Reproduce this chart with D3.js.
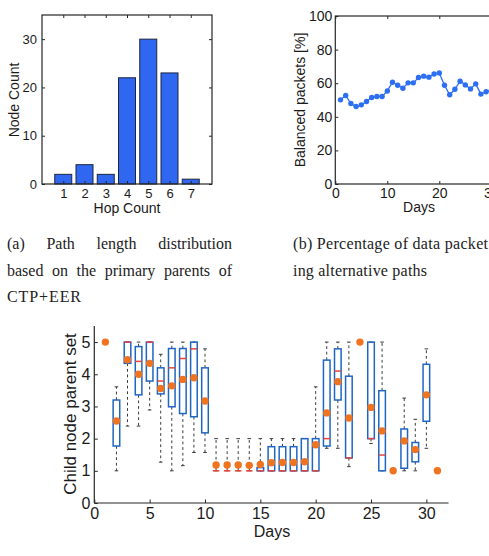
<!DOCTYPE html>
<html>
<head>
<meta charset="utf-8">
<script src="https://cdn.jsdelivr.net/npm/d3@7"></script>
<style>
  body { margin: 0; background: #fff; }
  svg { display: block; }
  .ax text { font-family: "Liberation Sans", Arial, sans-serif; fill: #1a1a1a; }
  .ax line { stroke: #262626; }
  .cap { font-family: "Liberation Serif", "Times New Roman", serif; font-size: 16px; fill: #222; }
  .lab { font-family: "Liberation Sans", Arial, sans-serif; fill: #1a1a1a; }
</style>
</head>
<body>
<svg id="fig" width="489" height="556"></svg>
<script>
// (a) hop count histogram
var hopCounts = [1, 2, 3, 4, 5, 6, 7];
var nodeCounts = [2, 4, 2, 22, 30, 23, 1];

// (b) balanced packets per day
var balDays = [1,2,3,4,5,6,7,8,9,10,11,12,13,14,15,16,17,18,19,20,21,22,23,24,25,26,27,28,29,30];
var balPct = [50.1,52.7,47.9,46.1,47.1,49.1,51.5,52.1,52.1,55.4,60.6,58.8,57.0,60.2,60.2,63.4,64.2,63.6,65.5,66.1,58.8,53.1,56.4,61.2,59.0,56.6,59.6,53.5,54.9,55.5];

// (c) child node parent set, box stats per day (null = no box, only the mean)
var boxDays = [1,2,3,4,5,6,7,8,9,10,11,12,13,14,15,16,17,18,19,20,21,22,23,24,25,26,27,28,29,30,31];
var boxMean = [5,2.55,4.45,4.0,4.34,3.56,3.64,3.84,3.89,3.17,1.18,1.18,1.18,1.17,1.2,1.25,1.26,1.26,1.28,1.81,2.8,3.77,2.64,5,2.97,2.24,1,1.93,1.66,3.36,1];
var boxQ1   = [null,1.77,4.34,3.36,3.79,3.39,2.99,2.78,2.68,2.18,1,1,1,1,1,1,1,1,1,1,1.77,3.2,1.4,null,2.0,1,null,1.08,1.28,2.54,null];
var boxMed  = [null,2.55,5,4.4,5,3.79,4.2,4.49,4.79,3.17,1,1,1,1,1,1,1,1,1,1,2.0,4.1,1.4,null,2.0,1.49,null,1.93,1.66,3.36,null];
var boxQ3   = [null,3.2,5,4.86,5,4.2,4.8,4.8,5,4.2,1,1,1,1,1.1,1.75,1.75,1.75,2,2,4.44,4.79,3.94,null,5,3.49,null,2.3,1.88,4.31,null];
var boxLo   = [null,1,2.39,2.39,2.89,1.27,1,1.16,1.57,1.57,1,1,1,1,1,1,1,1,1,1,1.7,1.7,1.13,null,1.85,1,null,1,1,1.7,null];
var boxHi   = [null,3.61,5,5,5,4.62,5,5,5,4.79,2,2,2,2,2,2,2,2,2,3.61,5,5,5,null,5,5,null,3.26,2.6,4.79,null];

var svg = d3.select("#fig");

function styleAxis(g, size) {
  g.classed("ax", true);
  g.select(".domain").remove();
  g.selectAll("text").style("font-size", size + "px");
}

// ---------- (a) ----------
var xa = d3.scaleLinear().domain([0, 8]).range([42, 212]);
var ya = d3.scaleLinear().domain([0, 35]).range([184, 15]);
var ga = svg.append("g");

ga.selectAll(".bar").data(hopCounts).enter().append("rect")
  .attr("class", "bar")
  .attr("x", function(d) { return xa(d - 0.4); })
  .attr("width", xa(0.8) - xa(0))
  .attr("y", function(d, i) { return ya(nodeCounts[i]); })
  .attr("height", function(d, i) { return ya(0) - ya(nodeCounts[i]); })
  .attr("fill", "#3067f0")
  .attr("stroke", "#1c2540")
  .attr("stroke-width", 1);

ga.append("g").attr("transform", "translate(0,184)")
  .call(d3.axisBottom(xa).tickValues(hopCounts).tickSize(-3).tickPadding(5).tickFormat(d3.format("d")))
  .call(styleAxis, 13);
ga.append("g").attr("transform", "translate(0,15)")
  .call(d3.axisTop(xa).tickValues(hopCounts).tickSize(-3).tickFormat(""))
  .call(styleAxis, 13);
ga.append("g").attr("transform", "translate(42,0)")
  .call(d3.axisLeft(ya).tickValues([0, 10, 20, 30]).tickSize(-3).tickPadding(5))
  .call(styleAxis, 13);
ga.append("g").attr("transform", "translate(212,0)")
  .call(d3.axisRight(ya).tickValues([0, 10, 20, 30]).tickSize(-3).tickFormat(""))
  .call(styleAxis, 13);
ga.append("rect").attr("x", 42).attr("y", 15).attr("width", 170).attr("height", 169)
  .attr("fill", "none").attr("stroke", "#262626").attr("stroke-width", 1.2);

ga.append("text").attr("class", "lab").attr("x", 127).attr("y", 213)
  .attr("text-anchor", "middle").style("font-size", "14px").text("Hop Count");
ga.append("text").attr("class", "lab")
  .attr("transform", "translate(19,100) rotate(-90)")
  .attr("text-anchor", "middle").style("font-size", "14px").text("Node Count");

// ---------- (b) ----------
var xb = d3.scaleLinear().domain([0, 32]).range([335.3, 501.7]);
var yb = d3.scaleLinear().domain([0, 100]).range([184, 16]);
var gb = svg.append("g");

var line = d3.line()
  .x(function(d, i) { return xb(balDays[i]); })
  .y(function(d) { return yb(d); });
gb.append("path").datum(balPct).attr("d", line)
  .attr("fill", "none").attr("stroke", "#2d6ff2").attr("stroke-width", 1.3);
gb.selectAll(".pt").data(balPct).enter().append("circle")
  .attr("class", "pt")
  .attr("cx", function(d, i) { return xb(balDays[i]); })
  .attr("cy", function(d) { return yb(d); })
  .attr("r", 2.7).attr("fill", "#2d6ff2");

gb.append("g").attr("transform", "translate(0,184)")
  .call(d3.axisBottom(xb).tickValues([0, 10, 20, 30]).tickSize(-3).tickPadding(4))
  .call(styleAxis, 14);
gb.append("g").attr("transform", "translate(0,16)")
  .call(d3.axisTop(xb).tickValues([0, 10, 20, 30]).tickSize(-3).tickFormat(""))
  .call(styleAxis, 14);
gb.append("g").attr("transform", "translate(335.3,0)")
  .call(d3.axisLeft(yb).tickValues([0, 20, 40, 60, 80, 100]).tickSize(-3).tickPadding(3))
  .call(styleAxis, 14);
gb.append("rect").attr("x", 335.3).attr("y", 16).attr("width", 166.4).attr("height", 168)
  .attr("fill", "none").attr("stroke", "#262626").attr("stroke-width", 1.2);

gb.append("text").attr("class", "lab").attr("x", 419).attr("y", 212)
  .attr("text-anchor", "middle").style("font-size", "14px").text("Days");
gb.append("text").attr("class", "lab")
  .attr("transform", "translate(305,100) rotate(-90)")
  .attr("text-anchor", "middle").style("font-size", "14px").text("Balanced packets [%]");

// ---------- captions ----------
function justify(words, x0, x1, y) {
  var nodes = words.map(function(w) {
    return svg.append("text").attr("class", "cap").attr("y", y).text(w);
  });
  var widths = nodes.map(function(n) { return n.node().getComputedTextLength(); });
  var gap = (x1 - x0 - d3.sum(widths)) / (words.length - 1);
  var x = x0;
  nodes.forEach(function(n, i) { n.attr("x", x); x += widths[i] + gap; });
}
function capLine(txt, x, y, len) {
  svg.append("text").attr("class", "cap").attr("x", x).attr("y", y)
    .attr("textLength", len).attr("lengthAdjust", "spacing").text(txt);
}
justify(["(a)", "Path", "length", "distribution"], 7, 232, 249);
justify(["based", "on", "the", "primary", "parents", "of"], 7, 232, 275.5);
capLine("CTP+EER", 7, 302, 74);
capLine("(b) Percentage of data packet", 293, 249, 195);
capLine("ing alternative paths", 293, 275.5, 134);

// ---------- (c) ----------
var xc = d3.scaleLinear().domain([0, 32]).range([94.3, 448.5]);
var yc = d3.scaleLinear().domain([0, 5.5]).range([503, 326]);
var gc = svg.append("g");
var bw = 6.6, cw = 3.6;

var boxes = boxDays.map(function(d, i) {
  return { day: d, mean: boxMean[i], q1: boxQ1[i], med: boxMed[i], q3: boxQ3[i], lo: boxLo[i], hi: boxHi[i] };
});
var withBox = boxes.filter(function(b) { return b.q1 !== null; });

var wg = gc.selectAll(".bx").data(withBox).enter().append("g").attr("class", "bx");
// whiskers
wg.append("line")
  .attr("x1", function(b) { return xc(b.day); }).attr("x2", function(b) { return xc(b.day); })
  .attr("y1", function(b) { return yc(b.q3); }).attr("y2", function(b) { return yc(b.hi); })
  .attr("stroke", "#3a3a3a").attr("stroke-width", 1).attr("stroke-dasharray", "2.8,2.8");
wg.append("line")
  .attr("x1", function(b) { return xc(b.day); }).attr("x2", function(b) { return xc(b.day); })
  .attr("y1", function(b) { return yc(b.q1); }).attr("y2", function(b) { return yc(b.lo); })
  .attr("stroke", "#3a3a3a").attr("stroke-width", 1).attr("stroke-dasharray", "2.8,2.8");
wg.append("line")
  .attr("x1", function(b) { return xc(b.day) - cw / 2; }).attr("x2", function(b) { return xc(b.day) + cw / 2; })
  .attr("y1", function(b) { return yc(b.hi); }).attr("y2", function(b) { return yc(b.hi); })
  .attr("stroke", "#3a3a3a").attr("stroke-width", 1);
wg.append("line")
  .attr("x1", function(b) { return xc(b.day) - cw / 2; }).attr("x2", function(b) { return xc(b.day) + cw / 2; })
  .attr("y1", function(b) { return yc(b.lo); }).attr("y2", function(b) { return yc(b.lo); })
  .attr("stroke", "#3a3a3a").attr("stroke-width", 1);
// box
wg.append("rect")
  .attr("x", function(b) { return xc(b.day) - bw / 2; })
  .attr("width", bw)
  .attr("y", function(b) { return yc(b.q3); })
  .attr("height", function(b) { return yc(b.q1) - yc(b.q3); })
  .attr("fill", "none").attr("stroke", "#1f66c4").attr("stroke-width", 1.5);
// median
wg.append("line")
  .attr("x1", function(b) { return xc(b.day) - bw / 2; }).attr("x2", function(b) { return xc(b.day) + bw / 2; })
  .attr("y1", function(b) { return yc(b.med); }).attr("y2", function(b) { return yc(b.med); })
  .attr("stroke", "#e8443a").attr("stroke-width", 1.5);
// means
gc.selectAll(".mn").data(boxes).enter().append("circle")
  .attr("class", "mn")
  .attr("cx", function(b) { return xc(b.day); })
  .attr("cy", function(b) { return yc(b.mean); })
  .attr("r", 3.7).attr("fill", "#f07320");

gc.append("g").attr("transform", "translate(0,503)")
  .call(d3.axisBottom(xc).tickValues([0, 5, 10, 15, 20, 25, 30]).tickSize(-3.5).tickPadding(5))
  .call(styleAxis, 16);
gc.append("g").attr("transform", "translate(94.3,0)")
  .call(d3.axisLeft(yc).tickValues([0, 1, 2, 3, 4, 5]).tickSize(-3.5).tickPadding(4).tickFormat(d3.format("d")))
  .call(styleAxis, 16);
gc.append("line").attr("x1", 94.3).attr("x2", 448.5).attr("y1", 503).attr("y2", 503)
  .attr("stroke", "#262626").attr("stroke-width", 1.2);
gc.append("line").attr("x1", 94.3).attr("x2", 94.3).attr("y1", 326).attr("y2", 503)
  .attr("stroke", "#262626").attr("stroke-width", 1.2);

gc.append("text").attr("class", "lab").attr("x", 272).attr("y", 537)
  .attr("text-anchor", "middle").style("font-size", "16px").text("Days");
gc.append("text").attr("class", "lab")
  .attr("transform", "translate(76,414) rotate(-90)")
  .attr("text-anchor", "middle").style("font-size", "17px").text("Child node parent set");
</script>
</body>
</html>
